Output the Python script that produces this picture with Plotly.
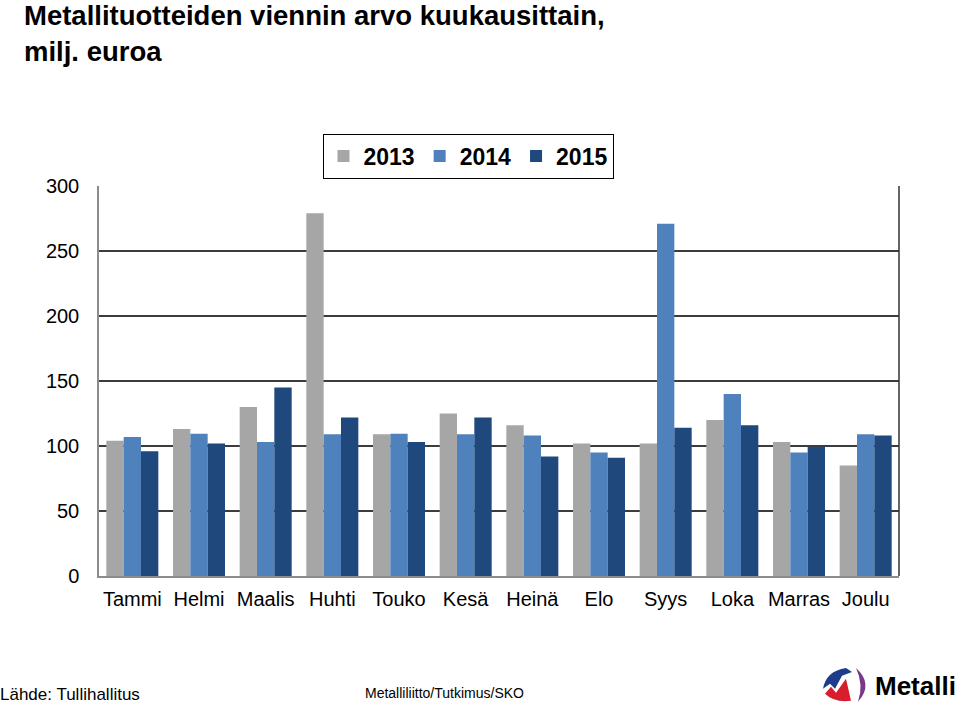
import plotly.graph_objects as go

months = ["Tammi", "Helmi", "Maalis", "Huhti", "Touko", "Kesä",
          "Heinä", "Elo", "Syys", "Loka", "Marras", "Joulu"]
v2013 = [104, 113, 130, 279, 109, 125, 116, 102, 102, 120, 103, 85]
v2014 = [107, 109.5, 103, 109, 109.5, 109, 108, 95, 271, 140, 95, 109]
v2015 = [96, 102, 145, 122, 103, 122, 92, 91, 114, 116, 99.5, 108]
years = ["2013", "2014", "2015"]
colors = ["#A6A6A6", "#4F81BD", "#1F497D"]

W, H = 960, 705
L, R, T, B = 99, 899, 185.5, 576


def px(x):
    return (x - L) / (R - L)


def py(y):
    return (B - y) / (B - T)


FONT = "Liberation Sans, Arial, sans-serif"

fig = go.Figure()
for name, vals, col in zip(years, [v2013, v2014, v2015], colors):
    fig.add_trace(go.Bar(x=months, y=vals, name=name, marker_color=col,
                         marker_line_width=0))


def path(cmds):
    out = []
    for c in cmds:
        if isinstance(c, str):
            out.append(c)
        else:
            out.append(f"{px(c[0]):.5f},{py(c[1]):.5f}")
    return " ".join(out)


shapes = [
    dict(type="line", xref="paper", yref="paper", x0=1, x1=1, y0=0, y1=1,
         line=dict(color="#333333", width=1.5)),
    dict(type="path", xref="paper", yref="paper", fillcolor="#1F3C8C", line_width=0,
         path=path(["M", (823, 689), "Q", (826, 671), (846, 668), "L", (852, 672),
                    "L", (842, 676), "L", (835, 689), "L", (830, 684), "Z"])),
    dict(type="path", xref="paper", yref="paper", fillcolor="#D81E2C", line_width=0,
         path=path(["M", (825, 694), "L", (831, 687), "L", (836, 693), "L", (846, 679),
                    "L", (851, 701), "Q", (834, 703), (825, 694), "Z"])),
    dict(type="path", xref="paper", yref="paper", fillcolor="#7A3889", line_width=0,
         path=path(["M", (856, 668), "Q", (874, 684), (858, 702), "Q", (864, 685),
                    (856, 668), "Z"])),
]

annotations = [
    dict(text="<b>Metallituotteiden viennin arvo kuukausittain,<br>milj. euroa</b>",
         xref="paper", yref="paper", x=px(22), y=py(-3), xanchor="left", yanchor="top",
         align="left", showarrow=False,
         font=dict(family=FONT, size=27.5, color="#000")),
    dict(text="Lähde: Tullihallitus", xref="paper", yref="paper",
         x=px(-2), y=py(695), xanchor="left", yanchor="middle", showarrow=False,
         font=dict(family=FONT, size=17, color="#000")),
    dict(text="Metalliliitto/Tutkimus/SKO", xref="paper", yref="paper",
         x=px(363), y=py(693), xanchor="left", yanchor="middle", showarrow=False,
         font=dict(family=FONT, size=14, color="#000")),
    dict(text="<b>Metalli</b>", xref="paper", yref="paper",
         x=px(873), y=py(686), xanchor="left", yanchor="middle", showarrow=False,
         font=dict(family=FONT, size=26, color="#000")),
]

fig.update_layout(
    width=W, height=H,
    margin=dict(l=L, r=W - R, t=T, b=H - B, pad=0),
    paper_bgcolor="white", plot_bgcolor="white",
    barmode="group", bargap=0.22, bargroupgap=0,
    showlegend=True,
    legend=dict(orientation="h", xref="paper", yref="paper",
                x=px(468), y=py(133), xanchor="center", yanchor="top",
                bordercolor="#000", borderwidth=1, bgcolor="white",
                font=dict(family=FONT, size=23, color="#000", weight="bold"),
                itemclick=False, itemdoubleclick=False),
    xaxis=dict(showline=True, linecolor="#8C8C8C", linewidth=1.5, ticks="",
               showgrid=False, tickfont=dict(family=FONT, size=20, color="#000"),
               ticklabelstandoff=4, fixedrange=True),
    yaxis=dict(range=[0, 300], dtick=50, showline=True, linecolor="#8C8C8C",
               linewidth=1.5, showgrid=True, gridcolor="#3C3C3C", gridwidth=1.5,
               zeroline=False, ticks="",
               tickfont=dict(family=FONT, size=20, color="#000"),
               ticklabelstandoff=14, fixedrange=True),
    shapes=shapes,
    annotations=annotations,
)

fig.write_html("out.html", config={"displayModeBar": False},
               post_script="document.body.style.margin='0';document.body.style.overflow='hidden';")
